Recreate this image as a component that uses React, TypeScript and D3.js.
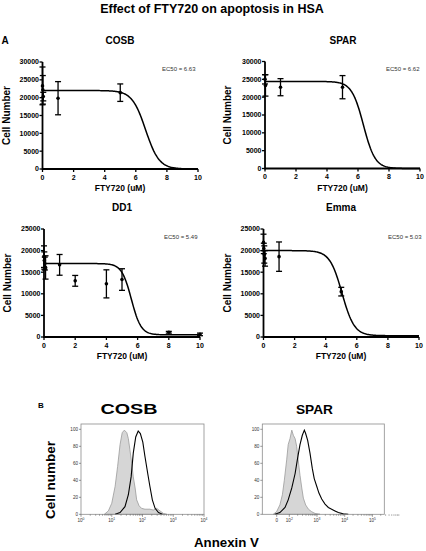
import React from 'react';
import * as d3 from 'd3';

const FONT = '"Liberation Sans", Arial, Helvetica, sans-serif';

// ---------- Panel A: dose-response data (FTY720 uM vs cell number) ----------
const cosbX = [0, 0.02, 0.05, 1, 5];
const cosbY = [23300, 22200, 20300, 19850, 21400];
const cosbErr = [5300, 4000, 1200, 4650, 2450];
const cosbFit = [22000, 0, 6.63, 1.0]; // top, bottom, midpoint, hill

const sparX = [0, 0.03, 1, 5];
const sparY = [25000, 23300, 22800, 22800];
const sparErr = [1300, 3000, 2400, 3250];
const sparFit = [24400, 0, 6.35, 1.15];

const dd1X = [0, 0.02, 0.05, 0.1, 1, 2, 4, 5, 8, 10];
const dd1Y = [18600, 17700, 17000, 16100, 16700, 13000, 12300, 13300, 1100, 600];
const dd1Err = [2500, 2000, 1500, 2700, 2400, 1250, 3250, 2500, 200, 300];
const dd1Fit = [17000, 500, 5.6, 1.4];

const emmaX = [0, 0.02, 0.05, 0.1, 1, 5];
const emmaY = [21900, 20500, 19100, 18200, 18600, 10500];
const emmaErr = [1900, 1200, 2000, 1800, 3400, 1000];
const emmaFit = [20000, 300, 5.05, 1.1];

const ec50Labels = ['EC50 = 6.63', 'EC50 = 6.62', 'EC50 = 5.49', 'EC50 = 5.03'];
const panelTitles = ['COSB', 'SPAR', 'DD1', 'Emma'];

const xTicks = [0, 2, 4, 6, 8, 10];
const yTicks30 = [0, 5000, 10000, 15000, 20000, 25000, 30000];
const yTicks25 = [0, 5000, 10000, 15000, 20000, 25000];

// ---------- Panel B: Annexin V histograms ----------
// COSB: x in log10 units (10^0..10^4)
const cosbCtrlX = [0.76, 0.89, 1.0, 1.11, 1.19, 1.27, 1.34, 1.41, 1.49, 1.54, 1.59, 1.65, 1.70, 1.76, 1.81, 1.89, 1.97, 2.08, 2.24, 2.35, 2.46, 2.57, 2.68, 2.79];
const cosbCtrlY = [0, 4, 13, 33, 56, 82, 96, 99, 96, 89, 76, 60, 44, 31, 17, 10, 7, 6, 6, 5, 7, 4, 1, 0];
const cosbTreatX = [1.11, 1.27, 1.43, 1.54, 1.63, 1.70, 1.78, 1.86, 1.93, 2.01, 2.08, 2.17, 2.24, 2.32, 2.41, 2.52, 2.65];
const cosbTreatY = [0, 2, 9, 23, 44, 72, 91, 98, 95, 85, 68, 48, 33, 17, 7, 2, 0];
const cosbHistTicks = [0, 1, 2, 3, 4];
const cosbHistTickExp = ['0', '1', '2', '3', '4'];

// SPAR: x in display decades (biexponential axis)
const sparCtrlX = [1.42, 1.54, 1.66, 1.75, 1.82, 1.905, 1.96, 2.025, 2.09, 2.146, 2.21, 2.266, 2.32, 2.386, 2.45, 2.507, 2.59, 2.69, 2.81, 2.93, 3.11];
const sparCtrlY = [0, 3, 11, 23, 40, 64, 82, 89, 99, 93, 89, 80, 64, 46, 31, 19, 11, 6, 3, 1, 0];
const sparTreatX = [1.48, 1.66, 1.845, 1.96, 2.09, 2.21, 2.30, 2.386, 2.47, 2.543, 2.59, 2.663, 2.747, 2.83, 2.90, 2.99, 3.07, 3.17, 3.29, 3.41, 3.53, 3.65, 3.77, 3.95, 4.13];
const sparTreatY = [0, 2, 8, 17, 31, 48, 66, 82, 93, 99, 95, 87, 72, 54, 42, 33, 25, 18, 12, 8, 6, 4, 2, 0.5, 0];
const sparHistTicks = [1.545, 2, 3, 4, 5];
const sparHistTickBase = ['0', '10', '10', '10', '10'];
const sparHistTickExp = ['', '2', '3', '4', '5'];
const histYTicks = [0, 20, 40, 60, 80, 100];

type DoseProps = {
  xs: number[]; ys: number[]; errs: number[]; fit: number[];
  yTicks: number[]; yMax: number; title: string; ec50: string;
  x0: number; x1: number; yb: number; yt: number;
  titlePos: [number, number]; ecPos: [number, number]; yLabPos: [number, number]; xTitlePos: [number, number];
};

function DosePanel(p: DoseProps) {
  const x = d3.scaleLinear().domain([0, 10]).range([p.x0, p.x1]);
  const y = d3.scaleLinear().domain([0, p.yMax]).range([p.yb, p.yt]);
  const [top, bottom, mid, hill] = p.fit;
  const f = (v: number) => bottom + (top - bottom) / (1 + Math.pow(10, (v - mid) * hill));
  const samples = d3.range(0, 10.0001, 0.05);
  const line = d3.line<number>().x((d) => x(d)).y((d) => y(f(d)));
  return (
    <g fontFamily={FONT}>
      <text x={p.titlePos[0]} y={p.titlePos[1]} textAnchor="middle" fontSize={10} fontWeight="bold">{p.title}</text>
      <text x={p.ecPos[0]} y={p.ecPos[1]} fontSize={6} fill="#333">{p.ec50}</text>
      <path d={line(samples) || ''} fill="none" stroke="#000" strokeWidth={1.5} />
      {p.xs.map((xv, i) => (
        <g key={'e' + i} stroke="#000" strokeWidth={1.3}>
          <line x1={x(xv)} x2={x(xv)} y1={y(p.ys[i] - p.errs[i])} y2={y(p.ys[i] + p.errs[i])} />
          <line x1={x(xv) - 3} x2={x(xv) + 3} y1={y(p.ys[i] - p.errs[i])} y2={y(p.ys[i] - p.errs[i])} />
          <line x1={x(xv) - 3} x2={x(xv) + 3} y1={y(p.ys[i] + p.errs[i])} y2={y(p.ys[i] + p.errs[i])} />
        </g>
      ))}
      {p.xs.map((xv, i) => (
        <circle key={'p' + i} cx={x(xv)} cy={y(p.ys[i])} r={1.8} fill="#000" />
      ))}
      <line x1={p.x0} x2={p.x0} y1={p.yb + 0.9} y2={y(p.yMax)} stroke="#000" strokeWidth={1.8} />
      <line x1={p.x0} x2={p.x1} y1={p.yb} y2={p.yb} stroke="#000" strokeWidth={1.8} />
      {p.yTicks.map((t) => (
        <g key={'yt' + t}>
          <line x1={p.x0 - 3} x2={p.x0} y1={y(t)} y2={y(t)} stroke="#000" strokeWidth={1.3} />
          <text x={p.x0 - 3.5} y={y(t) + 2.4} textAnchor="end" fontSize={7} fontWeight="bold">{t}</text>
        </g>
      ))}
      {xTicks.map((t) => (
        <g key={'xt' + t}>
          <line x1={x(t)} x2={x(t)} y1={p.yb} y2={p.yb + 3} stroke="#000" strokeWidth={1.3} />
          <text x={x(t)} y={p.yb + 10.5} textAnchor="middle" fontSize={7} fontWeight="bold">{t}</text>
        </g>
      ))}
      <text x={p.xTitlePos[0]} y={p.xTitlePos[1]} textAnchor="middle" fontSize={8.5} fontWeight="bold">FTY720 (uM)</text>
      <text transform={`translate(${p.yLabPos[0]},${p.yLabPos[1]}) rotate(-90)`} textAnchor="middle" fontSize={10} fontWeight="bold">Cell Number</text>
    </g>
  );
}

type HistProps = {
  ctrlX: number[]; ctrlY: number[]; trtX: number[]; trtY: number[];
  domain: [number, number]; left: number; right: number;
  tickPos: number[]; tickBase: string[]; tickExp: string[]; minorDecades: number[];
  title: string; titleX: number; titleLen: number; titleSize: number;
};

function HistPanel(p: HistProps) {
  const top = 424, bottom = 514.3;
  const x = d3.scaleLinear().domain(p.domain).range([p.left, p.right]);
  const y = d3.scaleLinear().domain([0, 100]).range([bottom, 429.3]);
  const area = d3.area<number>().x((_, i) => x(p.ctrlX[i])).y0(bottom).y1((d) => y(d));
  const line = d3.line<number>().x((_, i) => x(p.trtX[i])).y((d) => y(d));
  const minors: number[] = [];
  p.minorDecades.forEach((d) => {
    for (let k = 2; k <= 9; k++) minors.push(d + Math.log10(k));
  });
  return (
    <g fontFamily={FONT}>
      <text x={p.titleX} y={413.5} textAnchor="middle" fontSize={p.titleSize} fontWeight="bold" textLength={p.titleLen} lengthAdjust="spacingAndGlyphs">{p.title}</text>
      <path d={area(p.ctrlY) || ''} fill="#d6d6d6" stroke="#9a9a9a" strokeWidth={0.8} />
      <path d={line(p.trtY) || ''} fill="none" stroke="#000" strokeWidth={1.1} />
      <rect x={p.left} y={top} width={p.right - p.left} height={bottom - top} fill="none" stroke="#8c8c8c" strokeWidth={0.8} />
      {histYTicks.map((t) => (
        <g key={'hy' + t}>
          <line x1={p.left - 2} x2={p.left} y1={y(t)} y2={y(t)} stroke="#555" strokeWidth={0.6} />
          <text x={p.left - 3} y={y(t) + 1.6} textAnchor="end" fontSize={4.6} fill="#333">{t}</text>
        </g>
      ))}
      {minors.map((m, i) => (
        <line key={'mn' + i} x1={x(m)} x2={x(m)} y1={bottom} y2={bottom + 1.5} stroke="#555" strokeWidth={0.5} />
      ))}
      {p.tickPos.map((t, i) => (
        <g key={'hx' + i}>
          <line x1={x(t)} x2={x(t)} y1={bottom} y2={bottom + 2.5} stroke="#555" strokeWidth={0.6} />
          <text x={x(t)} y={522} textAnchor="middle" fontSize={4.6} fill="#333">
            <tspan>{p.tickBase[i]}</tspan>
            {p.tickExp[i] ? <tspan dy={-2} fontSize={3.4}>{p.tickExp[i]}</tspan> : null}
          </text>
        </g>
      ))}
    </g>
  );
}

export default function App() {
  return (
    <svg width={426} height={551} style={{ position: 'absolute', left: 0, top: 0, background: '#fff' }}>
      <rect width={426} height={551} fill="#fff" />
      <text x={212} y={12.5} textAnchor="middle" fontFamily={FONT} fontSize={12.5} fontWeight="bold">Effect of FTY720 on apoptosis in HSA</text>
      <text x={1.5} y={44.3} fontFamily={FONT} fontSize={10} fontWeight="bold">A</text>

      <DosePanel xs={cosbX} ys={cosbY} errs={cosbErr} fit={cosbFit} yTicks={yTicks30} yMax={30000}
        title={panelTitles[0]} ec50={ec50Labels[0]} x0={42.5} x1={198} yb={169} yt={62}
        titlePos={[120, 43.5]} ecPos={[162, 71]} yLabPos={[10, 115.5]} xTitlePos={[120, 191]} />
      <DosePanel xs={sparX} ys={sparY} errs={sparErr} fit={sparFit} yTicks={yTicks30} yMax={30000}
        title={panelTitles[1]} ec50={ec50Labels[1]} x0={265} x1={420} yb={168.5} yt={61.5}
        titlePos={[343, 43.5]} ecPos={[386, 71]} yLabPos={[231, 115]} xTitlePos={[342.5, 190.5]} />
      <DosePanel xs={dd1X} ys={dd1Y} errs={dd1Err} fit={dd1Fit} yTicks={yTicks25} yMax={25000}
        title={panelTitles[2]} ec50={ec50Labels[2]} x0={44} x1={200} yb={337} yt={229}
        titlePos={[122, 210.7]} ecPos={[164, 239]} yLabPos={[11, 283]} xTitlePos={[122, 359]} />
      <DosePanel xs={emmaX} ys={emmaY} errs={emmaErr} fit={emmaFit} yTicks={yTicks25} yMax={25000}
        title={panelTitles[3]} ec50={ec50Labels[3]} x0={263.5} x1={419} yb={337} yt={229}
        titlePos={[341, 210.7]} ecPos={[388, 239]} yLabPos={[230.5, 283]} xTitlePos={[341, 359]} />

      <text x={38} y={407.5} fontFamily={FONT} fontSize={8} fontWeight="bold">B</text>
      <HistPanel ctrlX={cosbCtrlX} ctrlY={cosbCtrlY} trtX={cosbTreatX} trtY={cosbTreatY}
        domain={[0, 4]} left={81} right={204} tickPos={cosbHistTicks}
        tickBase={['10', '10', '10', '10', '10']} tickExp={cosbHistTickExp} minorDecades={[0, 1, 2, 3]}
        title="COSB" titleX={129} titleLen={57} titleSize={14} />
      <HistPanel ctrlX={sparCtrlX} ctrlY={sparCtrlY} trtX={sparTreatX} trtY={sparTreatY}
        domain={[1.025, 5.43]} left={262.3} right={384.3} tickPos={sparHistTicks}
        tickBase={sparHistTickBase} tickExp={sparHistTickExp} minorDecades={[2, 3, 4, 5]}
        title="SPAR" titleX={314.5} titleLen={37} titleSize={12.5} />
      <text transform="translate(55,480) rotate(-90)" textAnchor="middle" fontFamily={FONT} fontSize={13.5} fontWeight="bold">Cell number</text>
      <text x={194} y={547} fontFamily={FONT} fontSize={13} fontWeight="bold" textLength={65} lengthAdjust="spacingAndGlyphs">Annexin V</text>
    </svg>
  );
}
